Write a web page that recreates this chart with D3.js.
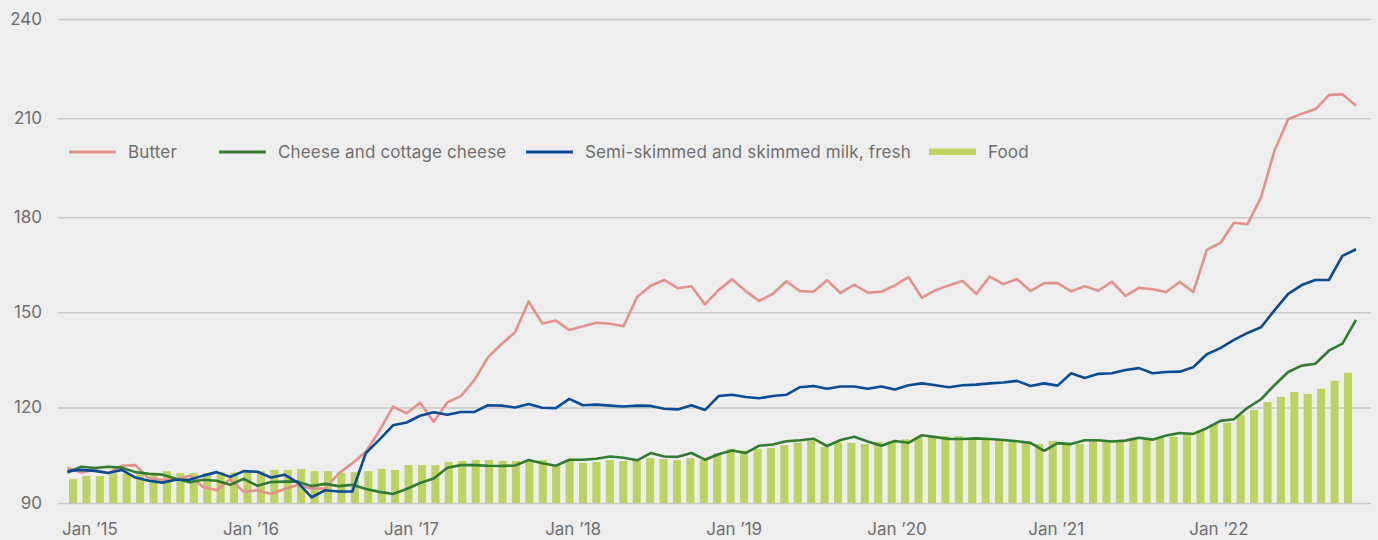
<!DOCTYPE html>
<html>
<head>
<meta charset="utf-8">
<script src="https://cdn.jsdelivr.net/npm/d3@7"></script>
<style>
body { margin: 0; background: #eeeeee; }
svg text { font-family: Inter, "DejaVu Sans", sans-serif; fill: #6e6e6e; }
</style>
</head>
<body>
<svg id="chart" width="1378" height="540"></svg>
<script>
// monthly index values, Jan 2015 - Dec 2022
var months = d3.range(96).map(function(i) { return new Date(2015, i, 1); });

var food = [97.5, 98.5, 98.5, 99.3, 99.2, 99.0, 99.0, 100.0, 99.4, 99.4,
	99.4, 99.7, 99.6, 100.1, 100.0, 100.4, 100.4, 100.7, 100.0, 100.0,
	99.4, 99.7, 100.0, 100.7, 100.4, 101.9, 101.9, 101.9, 102.9, 103.2,
	103.5, 103.5, 103.2, 103.2, 103.5, 103.5, 102.0, 103.2, 102.6, 102.9,
	103.5, 103.2, 103.3, 104.1, 103.8, 103.5, 104.1, 103.5, 105.7, 107.0,
	106.5, 107.0, 107.3, 108.2, 108.9, 109.6, 107.6, 109.0, 108.9, 108.5,
	109.2, 109.5, 110.0, 110.8, 110.7, 111.0, 111.0, 110.4, 110.1, 109.8,
	109.5, 109.2, 108.5, 109.5, 108.9, 108.5, 109.5, 109.5, 109.4, 110.5,
	110.0, 110.4, 110.8, 111.6, 112.8, 114.8, 115.2, 117.6, 119.2, 121.7,
	123.3, 124.9, 124.3, 125.9, 128.4, 130.9];

var butter = [101.1, 99.6, 100.4, 99.4, 101.7, 101.9, 97.7, 97.3, 97.3, 98.6,
	95.0, 94.0, 97.5, 93.5, 94.0, 92.8, 94.4, 95.7, 94.5, 94.6,
	99.3, 102.5, 106.1, 112.7, 120.3, 118.2, 121.5, 115.5, 121.6, 123.6,
	128.6, 135.8, 140.0, 143.7, 153.4, 146.5, 147.4, 144.4, 145.6, 146.7,
	146.4, 145.6, 154.9, 158.4, 160.2, 157.6, 158.2, 152.5, 157.0, 160.4,
	156.7, 153.6, 155.8, 159.8, 156.7, 156.5, 160.1, 156.1, 158.7, 156.2,
	156.5, 158.5, 161.1, 154.6, 157.0, 158.5, 159.9, 155.8, 161.3, 158.9,
	160.5, 156.7, 159.2, 159.2, 156.6, 158.2, 156.8, 159.7, 155.2, 157.7,
	157.3, 156.4, 159.6, 156.4, 169.7, 171.9, 178.3, 177.8, 186.1, 200.3,
	209.7, 211.4, 212.7, 217.0, 217.3, 213.8];

var cheese = [99.6, 101.4, 101.0, 101.4, 101.1, 99.7, 99.2, 98.9, 97.6, 96.5,
	97.3, 97.0, 95.7, 97.6, 95.4, 96.6, 96.7, 96.7, 95.3, 96.0,
	95.3, 95.7, 94.4, 93.5, 92.8, 94.4, 96.3, 97.7, 101.1, 101.9,
	101.9, 101.7, 101.6, 101.8, 103.5, 102.5, 101.7, 103.6, 103.6, 103.9,
	104.6, 104.2, 103.4, 105.7, 104.6, 104.5, 105.7, 103.6, 105.3, 106.5,
	105.7, 108.0, 108.4, 109.4, 109.7, 110.2, 107.9, 109.8, 110.8, 109.3,
	108.0, 109.5, 108.9, 111.3, 110.7, 110.1, 110.1, 110.3, 110.1, 109.8,
	109.4, 108.9, 106.4, 108.8, 108.5, 109.7, 109.7, 109.3, 109.6, 110.5,
	109.9, 111.2, 112.0, 111.7, 113.5, 115.8, 116.3, 119.9, 122.6, 127.1,
	131.2, 133.2, 133.8, 137.9, 140.1, 147.6];

var milk = [100.0, 100.4, 100.1, 99.4, 100.4, 98.0, 97.0, 96.4, 97.3, 97.3,
	98.6, 99.7, 98.2, 100.0, 99.8, 98.0, 98.9, 96.3, 91.8, 94.0,
	93.6, 93.6, 105.7, 109.9, 114.4, 115.3, 117.4, 118.5, 117.7, 118.6,
	118.6, 120.7, 120.6, 120.0, 121.1, 119.9, 119.8, 122.7, 120.7, 120.9,
	120.6, 120.3, 120.6, 120.5, 119.6, 119.4, 120.7, 119.2, 123.6, 124.0,
	123.3, 122.9, 123.6, 124.0, 126.4, 126.8, 125.9, 126.6, 126.6, 125.9,
	126.6, 125.7, 127.0, 127.6, 127.0, 126.4, 127.0, 127.2, 127.6, 127.9,
	128.4, 126.8, 127.6, 126.9, 130.8, 129.3, 130.6, 130.8, 131.8, 132.4,
	130.8, 131.2, 131.3, 132.7, 136.8, 138.7, 141.3, 143.5, 145.3, 150.7,
	155.8, 158.6, 160.2, 160.2, 167.8, 169.9];

var yTicks = [90, 120, 150, 180, 210, 240];
var xTickLabels = ["Jan ’15", "Jan ’16", "Jan ’17", "Jan ’18", "Jan ’19", "Jan ’20", "Jan ’21", "Jan ’22"];

var seriesNames = ["Butter", "Cheese and cottage cheese", "Semi-skimmed and skimmed milk, fresh", "Food"];
var colors = ["#e3918b", "#327b30", "#0a4b93", "#bdd361"];

var svg = d3.select("#chart");

// scales
var y = d3.scaleLinear()
	.domain(yTicks)
	.range([503, 407.5, 312.3, 217.3, 118.3, 19]);

var xBar = d3.scaleBand()
	.domain(months)
	.range([66.3, 1354.7])
	.paddingInner(0.4)
	.paddingOuter(0.2);

var xLine = d3.scalePoint()
	.domain(months)
	.range([67.5, 1356]);

// grid
var yAxis = d3.axisLeft(y)
	.tickValues(yTicks)
	.tickSize(-(1371 - 58))
	.tickPadding(16)
	.tickFormat(d3.format("d"));

var gy = svg.append("g")
	.attr("transform", "translate(58,0)")
	.call(yAxis);
gy.select(".domain").remove();
gy.selectAll(".tick line").attr("stroke", "#c9c9c9").attr("stroke-width", 1.6);
gy.selectAll(".tick text")
	.attr("x", 42 - 58)
	.attr("font-size", "17px")
	.attr("fill", "#6e6e6e");

// food bars
svg.append("g").selectAll("rect")
	.data(food)
	.enter()
	.append("rect")
	.attr("x", function(d, i) { return xBar(months[i]); })
	.attr("y", function(d) { return y(d); })
	.attr("width", xBar.bandwidth())
	.attr("height", function(d) { return y(90) - y(d); })
	.attr("fill", colors[3]);

// lines
var line = d3.line()
	.x(function(d, i) { return xLine(months[i]); })
	.y(function(d) { return y(d); });

[butter, cheese, milk].forEach(function(s, k) {
	svg.append("path")
		.datum(s)
		.attr("d", line)
		.attr("fill", "none")
		.attr("stroke", colors[k])
		.attr("stroke-width", 2.6)
		.attr("stroke-linejoin", "round");
});

// x labels on January
var janMonths = months.filter(function(m) { return m.getMonth() == 0; });
svg.append("g").selectAll("text")
	.data(janMonths)
	.enter()
	.append("text")
	.attr("x", function(d) { return xBar(d) - 7; })
	.attr("y", 535)
	.attr("font-size", "17px")
	.text(function(d, i) { return xTickLabels[i]; });

// legend
var legendX = [69, 219, 526, 929];
var legend = svg.append("g");
seriesNames.forEach(function(name, k) {
	if (k < 3) {
		legend.append("line")
			.attr("x1", legendX[k]).attr("x2", legendX[k] + 47)
			.attr("y1", 152).attr("y2", 152)
			.attr("stroke", colors[k])
			.attr("stroke-width", 2.8);
	} else {
		legend.append("rect")
			.attr("x", legendX[k]).attr("y", 148.5)
			.attr("width", 47).attr("height", 6.5)
			.attr("fill", colors[k]);
	}
	legend.append("text")
		.attr("x", legendX[k] + 59)
		.attr("y", 152)
		.attr("dy", "0.35em")
		.attr("font-size", "17px")
		.attr("letter-spacing", "0.15px")
		.text(name);
});
</script>
</body>
</html>
